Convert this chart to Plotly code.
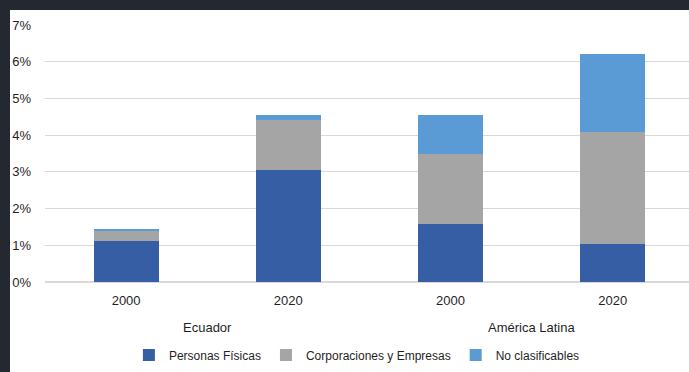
import plotly.graph_objects as go

regions = ["Ecuador", "Ecuador", "América Latina", "América Latina"]
years = ["2000", "2020", "2000", "2020"]

personas = [1.12, 3.05, 1.57, 1.04]
corporaciones = [0.28, 1.35, 1.93, 3.05]
no_clasif = [0.04, 0.16, 1.04, 2.13]

y_ticks = [0, 1, 2, 3, 4, 5, 6, 7]
y_labels = [f"{v}%" for v in y_ticks]

colors = ["#365EA5", "#A5A5A5", "#5B9BD5"]
names = ["Personas Físicas", "Corporaciones y Empresas", "No clasificables"]

cats = [f"{r} {y}" for r, y in zip(regions, years)]

fig = go.Figure()
for name, vals, col in zip(names, [personas, corporaciones, no_clasif], colors):
    fig.add_trace(go.Bar(x=cats, y=vals, name=name,
                         marker=dict(color=col, line=dict(width=0))))

fig.update_layout(
    barmode="stack", bargap=0.6,
    width=689, height=372,
    margin=dict(l=45, r=0, t=25, b=90, autoexpand=False),
    paper_bgcolor="#242831", plot_bgcolor="white",
    font=dict(family="Liberation Sans", size=12, color="#1F1F1F"),
    legend=dict(orientation="h", xref="container", x=0.518, xanchor="center",
                yref="container", y=(372 - 355) / 372, yanchor="middle",
                font=dict(size=12), itemwidth=30, traceorder="normal",
                bgcolor="rgba(0,0,0,0)"),
    showlegend=True,
)
fig.update_yaxes(range=[0, 7], tickvals=y_ticks, ticktext=y_labels, showgrid=True,
                 gridcolor="#D9D9D9", gridwidth=1, zeroline=True, zerolinecolor="#D9D9D9",
                 ticklabelstandoff=13, showline=False, automargin=False,
                 tickfont=dict(size=13))
fig.update_xaxes(range=[-0.5, 3.47], tickvals=cats, ticktext=years, showgrid=False,
                 showline=False, automargin=False, tickfont=dict(size=13),
                 ticklabelstandoff=9)

# group labels under each pair of bars
for i, grp in enumerate(["Ecuador", "América Latina"]):
    fig.add_annotation(x=2 * i + 0.5, xref="x", y=(282 - 327) / 257, yref="paper",
                       text=grp, showarrow=False, yanchor="middle", font=dict(size=13))

# white card inside the dark frame (card starts 10px from the top-left corner)
fig.add_shape(type="rect", xref="paper", yref="paper", x0=-35 / 644, x1=1.2,
              y0=-0.5, y1=(282 - 10) / 257, fillcolor="white", line=dict(width=0), layer="below")

fig.write_html("out.html", config={"displayModeBar": False},
               post_script="document.body.style.margin='0';document.body.style.overflow='hidden';")
